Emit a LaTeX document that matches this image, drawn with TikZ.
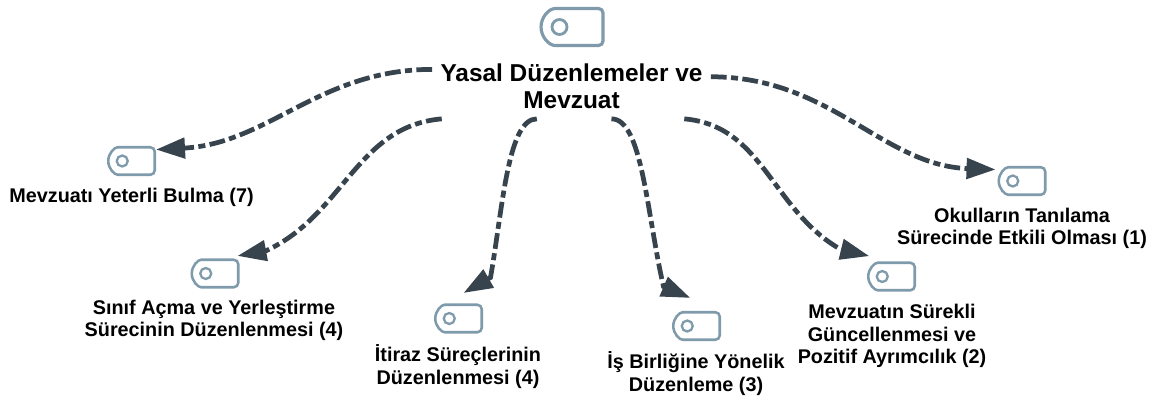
\documentclass[tikz,border=0pt]{standalone}
\usepackage{xcolor}
\usepackage{fontspec}
\usepackage{tikz}
\setmainfont{Liberation Sans}
\usetikzlibrary{arrows.meta,shapes.misc}
\definecolor{tagcolor}{HTML}{7F9BAB}
\definecolor{linkcolor}{HTML}{37444E}

\begin{document}
\begin{tikzpicture}
                [x=0.02cm, y=0.02cm,
                tag/.style = {draw=tagcolor, line width=1.45pt, rounded rectangle, rounded rectangle right arc=none,
                    rounded corners=2.5pt, inner sep=0, minimum width=0.93cm, minimum height=0.55cm,
                    path picture={\draw[tagcolor, line width=1.3pt] ([xshift=0.28cm]path picture bounding box.west) circle (0.11cm);}},
                tagmain/.style = {tag, line width=1.8pt, minimum width=1.24cm, minimum height=0.74cm,
                    path picture={\draw[tagcolor, line width=1.6pt] ([xshift=0.37cm]path picture bounding box.west) circle (0.15cm);}},
                txt/.style = {font=\bfseries\fontsize{11.27}{12.6}\selectfont, align=center, inner sep=0},
                link/.style = {-{Triangle[length=16.5pt,width=11.5pt]}, color=linkcolor, line width=2.7pt,
                    dash pattern=on 9pt off 2.5pt on 4pt off 2.5pt}]

    \useasboundingbox (0,0) rectangle (1151,397);

    \node[tagmain] (main) at (572,370) {};
    \node[txt, font=\bfseries\fontsize{13.9}{15.3}\selectfont, minimum width=5.56cm, minimum height=1.28cm] (yasal) at (571.5,310.5)
        {Yasal Düzenlemeler ve\\Mevzuat};

    \node[tag] (mevzuati) at (131.5,236) {};
    \node[tag] (sinif) at (215,123.5) {};
    \node[tag] (itiraz) at (458.5,78.5) {};
    \node[tag] (isbirligi) at (696.5,71) {};
    \node[tag] (guncel) at (891.5,120.5) {};
    \node[tag] (okul) at (1022,216) {};

    \node[txt] (mevzuatiT) at (131.5,200) {Mevzuatı Yeterli Bulma (7)};
    \node[txt] (sinifT) at (214,76.5) {Sınıf Açma ve Yerleştirme\\Sürecinin Düzenlenmesi (4)};
    \node[txt] (itirazT) at (458,30.5) {İtiraz Süreçlerinin\\Düzenlenmesi (4)};
    \node[txt] (isbirligiT) at (696,23.5) {İş Birliğine Yönelik\\Düzenleme (3)};
    \node[txt] (guncelT) at (892,61) {Mevzuatın Sürekli\\Güncellenmesi ve\\Pozitif Ayrımcılık (2)};
    \node[txt] (okulT) at (1022,168.5) {Okulların Tanılama\\Sürecinde Etkili Olması (1)};

    \draw[link] (yasal.173) to[out=180, in=3] (mevzuati.25);
    \draw[link, shorten >=8pt] (yasal.194) to[out=185, in=25] (266.5,146.5) -- (sinif.60);
    \draw[link, shorten >=15pt] (yasal.223) to[out=180, in=80, out looseness=0.45, in looseness=1.1] (490.5,119.5) -- (itiraz.145);
    \draw[link, shorten >=19pt] (yasal.321) to[out=0, in=103, out looseness=0.45, in looseness=1.1] (663.5,110.5) -- (isbirligi.north east);
    \draw[link, shorten >=13pt] (yasal.344) to[out=-5, in=150] (840,148) -- (guncel.north);
    \draw[link, shorten >=4pt] (yasal.4) to[out=0, in=178] (okul.150);
\end{tikzpicture}
\end{document}
